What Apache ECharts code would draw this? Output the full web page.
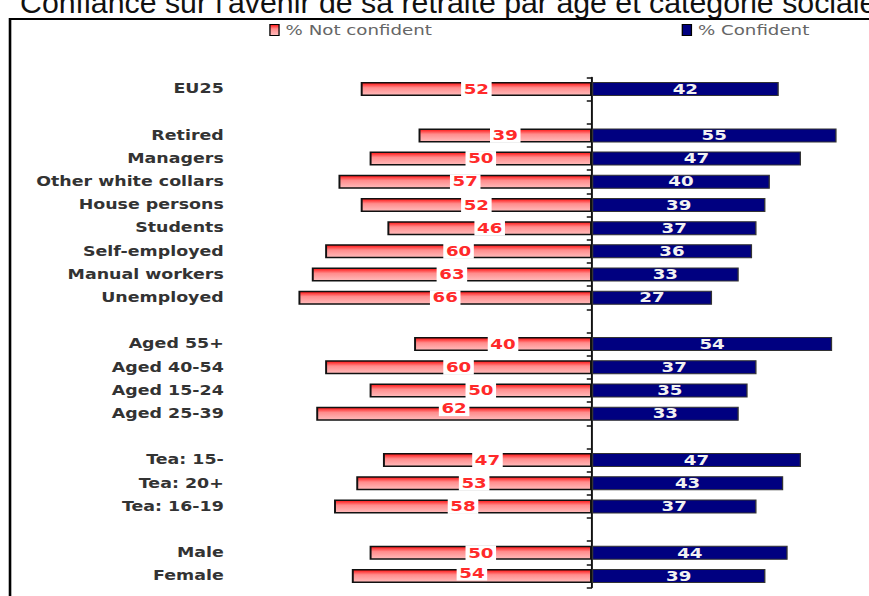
<!DOCTYPE html>
<html>
<head>
<meta charset="utf-8">
<script src="https://cdn.jsdelivr.net/npm/echarts@6/dist/echarts.min.js"></script>
<style>
  html, body { margin: 0; padding: 0; background: #ffffff; overflow: hidden; }
  /* the chart is laid out narrow and widened horizontally */
  #chart { width: 668px; height: 596px; transform: scaleX(1.3009); transform-origin: 0 0; }
</style>
</head>
<body>
<div id="chart"></div>
<script>
// Row labels; empty strings are spacer rows between groups
const categories = [
  'EU25', '',
  'Retired', 'Managers', 'Other white collars', 'House persons', 'Students',
  'Self-employed', 'Manual workers', 'Unemployed', '',
  'Aged 55+', 'Aged 40-54', 'Aged 15-24', 'Aged 25-39', '',
  'Tea: 15-', 'Tea: 20+', 'Tea: 16-19', '',
  'Male', 'Female'
];

// Percentages (null on spacer rows)
const notConfident = [
  52, null,
  39, 50, 57, 52, 46, 60, 63, 66, null,
  40, 60, 50, 62, null,
  47, 53, 58, null,
  50, 54
];
const confident = [
  42, null,
  55, 47, 40, 39, 37, 36, 33, 27, null,
  54, 37, 35, 33, null,
  47, 43, 37, null,
  44, 39
];

const seriesNames = ['% Not confident', '% Confident'];
const chartTitle = "Confiance sur l'avenir de sa retraite par âge et catégorie sociale";

// a couple of red value labels sit a little above their bar
const raisedRedLabels = { 'Aged 25-39': -5, 'Female': -3 };

const STRETCH = 1.3009;

const chart = echarts.init(document.getElementById('chart'), null, { renderer: 'svg' });

const redFill = new echarts.graphic.LinearGradient(0, 0, 0, 1, [
  { offset: 0, color: '#ff1010' },
  { offset: 0.4, color: '#ff8c8c' },
  { offset: 1, color: '#ffbcbc' }
]);

const font = '"DejaVu Sans", Verdana, sans-serif';

const redData = notConfident.map((v, i) => {
  if (v == null) return null;
  const dy = raisedRedLabels[categories[i]];
  return dy ? { value: -v, label: { offset: [0, dy] } } : -v;
});

chart.setOption({
  backgroundColor: '#ffffff',
  animation: false,
  graphic: [
    {
      // heading is set at normal proportions, so undo the page stretch
      type: 'text',
      x: 15.4,
      y: -12.8,
      scaleX: 1 / STRETCH,
      style: {
        text: chartTitle,
        font: '30.3px "Liberation Sans", Arial, sans-serif',
        fill: '#111',
        verticalAlign: 'top'
      }
    },
    {
      type: 'rect',
      shape: { x: 7.7, y: 19, width: 720, height: 640 },
      style: { fill: 'none', stroke: '#000', lineWidth: 2 }
    }
  ],
  legend: [
    {
      data: [seriesNames[0]],
      left: 202, top: 18,
      itemWidth: 7, itemHeight: 11,
      icon: 'rect',
      itemStyle: { borderColor: '#000', borderWidth: 1 },
      textStyle: { fontFamily: font, fontSize: 14, color: '#666' }
    },
    {
      data: [seriesNames[1]],
      left: 519, top: 18,
      itemWidth: 7, itemHeight: 11,
      icon: 'rect',
      itemStyle: { borderColor: '#000', borderWidth: 1 },
      textStyle: { fontFamily: font, fontSize: 14, color: '#666' }
    }
  ],
  grid: { left: 226, right: 21.5, top: 77.4, bottom: 8.4, containLabel: false },
  xAxis: {
    type: 'value',
    min: -67, max: 56,
    show: false
  },
  yAxis: [
    {
      type: 'category',
      data: categories,
      inverse: true,
      position: 'left',
      axisLine: { show: false, onZero: false },
      axisTick: { show: false },
      axisLabel: {
        margin: 54,
        fontFamily: font,
        fontWeight: 'bold',
        fontSize: 13.4,
        color: '#333'
      }
    },
    {
      type: 'category',
      data: categories,
      inverse: true,
      position: 'right',
      axisLine: { show: true, onZero: true, lineStyle: { color: '#111', width: 1.5 } },
      axisTick: { show: true, inside: true, length: 4, lineStyle: { color: '#111', width: 1.5 } },
      axisLabel: { show: false }
    }
  ],
  series: [
    {
      name: seriesNames[0],
      type: 'bar',
      yAxisIndex: 0,
      data: redData,
      barWidth: 14,
      barGap: '-100%',
      itemStyle: { color: redFill, borderColor: '#111', borderWidth: 1.5 },
      label: {
        show: true,
        position: 'inside',
        formatter: p => Math.abs(p.value),
        fontFamily: font,
        fontWeight: 'bold',
        fontSize: 14,
        color: '#ff2a2a',
        backgroundColor: '#ffffff',
        padding: [1, 2, 0, 2]
      }
    },
    {
      name: seriesNames[1],
      type: 'bar',
      yAxisIndex: 0,
      data: confident,
      barWidth: 14,
      barGap: '-100%',
      itemStyle: { color: '#000080', borderColor: '#333', borderWidth: 1 },
      label: {
        show: true,
        position: 'inside',
        fontFamily: font,
        fontWeight: 'bold',
        fontSize: 14,
        color: '#f2f2f2'
      }
    }
  ]
});
</script>
</body>
</html>
